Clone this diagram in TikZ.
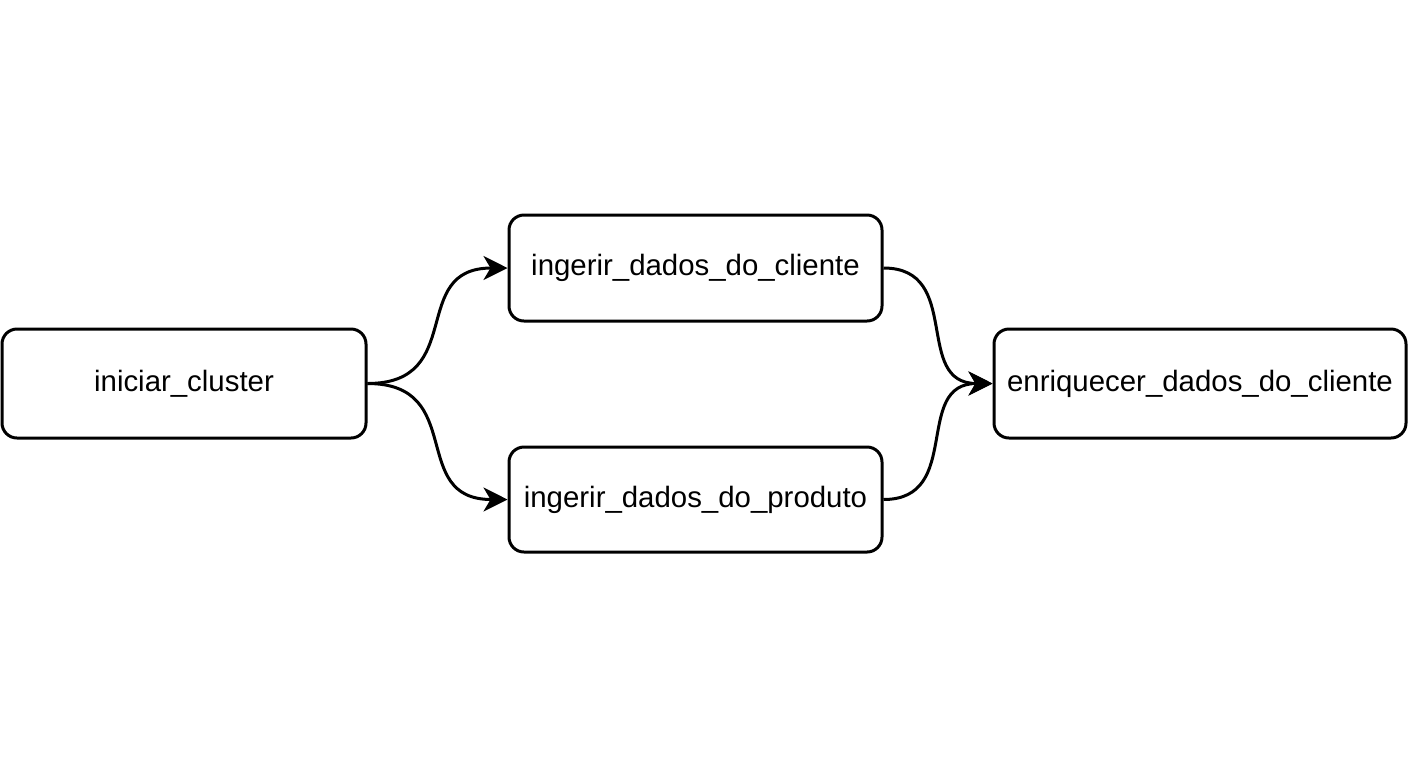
\documentclass[tikz,border=0pt]{standalone}
\usepackage{fontspec}
\setmainfont{Liberation Sans}
\usetikzlibrary{arrows.meta}
\tikzset{
  taskbox/.style={draw=black, line width=1.5pt, rounded corners=7.5pt, fill=white,
    inner sep=0pt, font=\fontsize{14.7}{17}\selectfont, text=black},
  flow/.style={draw=black, line width=1.5pt, -{Stealth[length=12pt,width=12pt,inset=3.5pt]}},
}
\begin{document}
\begin{tikzpicture}[x=0.5pt,y=-0.5pt]
\useasboundingbox[fill=white] (0,0) rectangle (1408,768);
\node[taskbox, minimum width=182pt, minimum height=54.5pt] (ini) at (184,383.5) {iniciar\_cluster};
\node[taskbox, minimum width=186.5pt, minimum height=53pt] (cli) at (695.5,268) {ingerir\_dados\_do\_cliente};
\node[taskbox, minimum width=186.5pt, minimum height=52.5pt] (pro) at (695.5,499.5) {ingerir\_dados\_do\_produto};
\node[taskbox, minimum width=206pt, minimum height=54.5pt] (enr) at (1200,383.5) {enriquecer\_dados\_do\_cliente};
\draw[flow] (ini.east) .. controls +(100,0) and +(-100,0) .. (cli.west);
\draw[flow] (ini.east) .. controls +(100,0) and +(-100,0) .. (pro.west);
\draw[flow] (cli.east) .. controls +(80,0) and +(-80,0) .. (enr.west);
\draw[flow] (pro.east) .. controls +(80,0) and +(-80,0) .. (enr.west);
\end{tikzpicture}
\end{document}
